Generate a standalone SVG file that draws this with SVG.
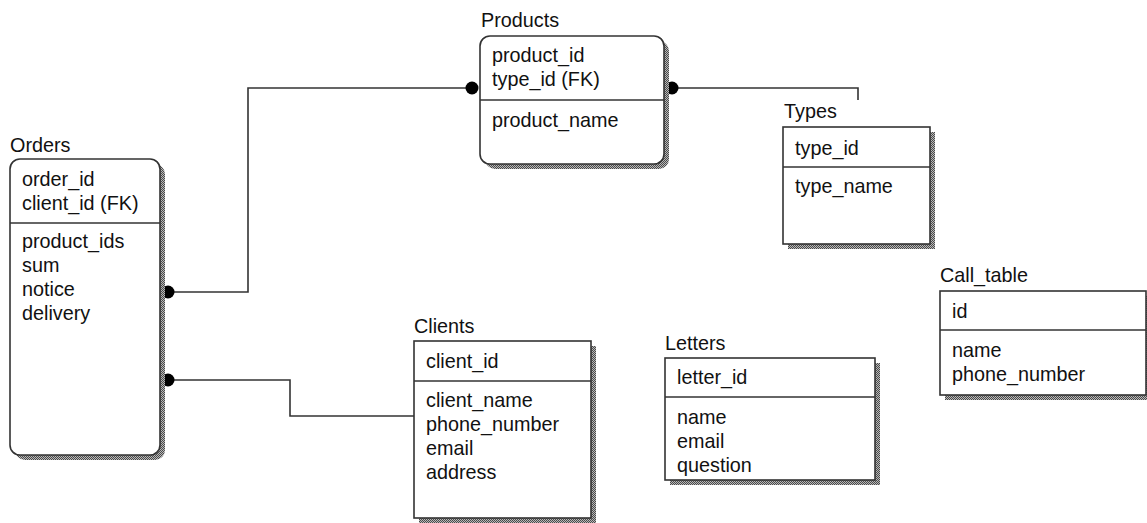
<svg xmlns="http://www.w3.org/2000/svg" width="1147" height="523" viewBox="0 0 1147 523">
<defs>
<pattern id="hatch" width="2" height="2" patternUnits="userSpaceOnUse">
<rect width="2" height="2" fill="#b8b8b8"/>
<rect width="1" height="1" fill="#4a4a4a"/>
<rect x="1" y="1" width="1" height="1" fill="#4a4a4a"/>
</pattern>
<style>
text{font-family:"Liberation Sans",Arial,sans-serif;font-size:19.8px;fill:#111}
.box{fill:#fff;stroke:#333;stroke-width:1.6}
.sh{fill:url(#hatch)}
.div{stroke:#333;stroke-width:1.6}
.conn{fill:none;stroke:#333;stroke-width:1.6}
.dot{fill:#000}
</style>
</defs>
<rect width="1147" height="523" fill="#fff"/>

<g id="connectors">
<polyline class="conn" points="168,292 248,292 248,88 472,88"/>
<polyline class="conn" points="168,380 290,380 290,416 414,416"/>
<polyline class="conn" points="672,88 858,88 858,100"/>
<circle class="dot" cx="168" cy="292" r="6.5"/>
<circle class="dot" cx="168" cy="380" r="6.5"/>
<circle class="dot" cx="472" cy="88" r="6.5"/>
<circle class="dot" cx="672" cy="88" r="6.5"/>
</g>

<g id="orders">
<text x="10" y="152">Orders</text>
<rect class="sh" x="15" y="164" width="150" height="296" rx="10"/>
<rect class="box" x="10" y="159" width="150" height="296" rx="10"/>
<line class="div" x1="10" y1="223" x2="160" y2="223"/>
<text x="22" y="186">order_id</text>
<text x="22" y="210">client_id (FK)</text>
<text x="22" y="248">product_ids</text>
<text x="22" y="272">sum</text>
<text x="22" y="296">notice</text>
<text x="22" y="320">delivery</text>
</g>

<g id="products">
<text x="481" y="27">Products</text>
<rect class="sh" x="485" y="41" width="184" height="128" rx="10"/>
<rect class="box" x="480" y="36" width="184" height="128" rx="10"/>
<line class="div" x1="480" y1="100" x2="664" y2="100"/>
<text x="492" y="62">product_id</text>
<text x="492" y="86">type_id (FK)</text>
<text x="492" y="127">product_name</text>
</g>

<g id="types">
<text x="784" y="118">Types</text>
<rect class="sh" x="788" y="132" width="147" height="117"/>
<rect class="box" x="783" y="127" width="147" height="117"/>
<line class="div" x1="783" y1="167" x2="930" y2="167"/>
<text x="795" y="155">type_id</text>
<text x="795" y="193">type_name</text>
</g>

<g id="clients">
<text x="414" y="333">Clients</text>
<rect class="sh" x="419" y="346" width="177" height="177"/>
<rect class="box" x="414" y="341" width="177" height="177"/>
<line class="div" x1="414" y1="381" x2="591" y2="381"/>
<text x="426" y="368">client_id</text>
<text x="426" y="407">client_name</text>
<text x="426" y="431">phone_number</text>
<text x="426" y="455">email</text>
<text x="426" y="479">address</text>
</g>

<g id="letters">
<text x="665" y="350">Letters</text>
<rect class="sh" x="670" y="363" width="210" height="122"/>
<rect class="box" x="665" y="358" width="210" height="122"/>
<line class="div" x1="665" y1="397" x2="875" y2="397"/>
<text x="677" y="384">letter_id</text>
<text x="677" y="424">name</text>
<text x="677" y="448">email</text>
<text x="677" y="472">question</text>
</g>

<g id="call_table">
<text x="940" y="282">Call_table</text>
<rect class="sh" x="945" y="296" width="220" height="104"/>
<rect class="box" x="940" y="291" width="206" height="104"/>
<line class="div" x1="940" y1="330" x2="1146" y2="330"/>
<text x="952" y="318">id</text>
<text x="952" y="357">name</text>
<text x="952" y="381">phone_number</text>
</g>
</svg>
